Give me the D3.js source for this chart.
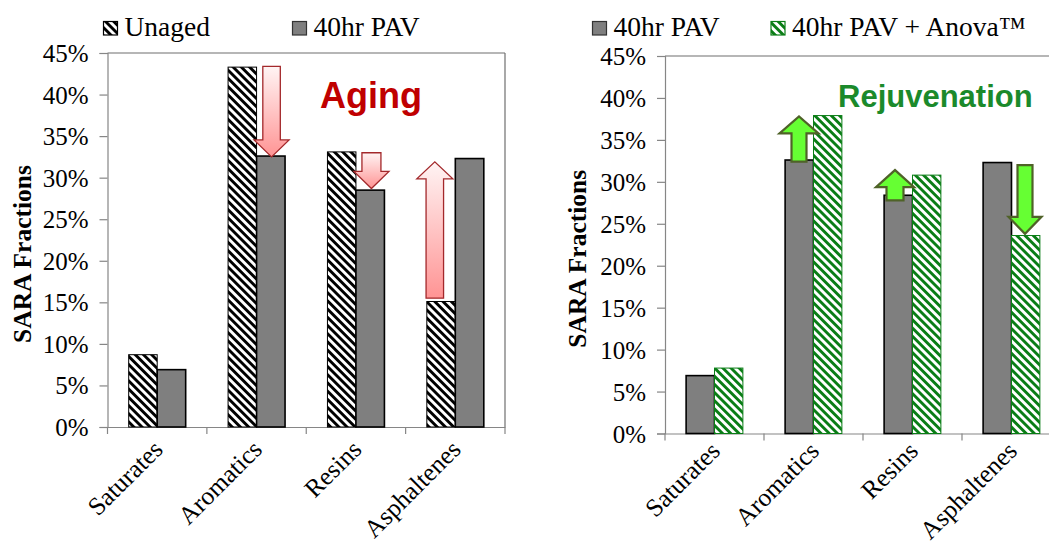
<!DOCTYPE html>
<html>
<head>
<meta charset="utf-8">
<script src="https://cdn.jsdelivr.net/npm/d3@7"></script>
<style>
  html, body { margin: 0; padding: 0; background: #fff; }
  svg { display: block; }
</style>
</head>
<body>
<svg id="chart" width="1049" height="544"></svg>
<script>
// ---------- DATA ----------
const categories = ["Saturates", "Aromatics", "Resins", "Asphaltenes"];
const yTicks = [0, 5, 10, 15, 20, 25, 30, 35, 40, 45];

// Left chart: Aging
const leftSeries = ["Unaged", "40hr PAV"];
const unaged = [8.7, 43.3, 33.1, 15.1];
const pavLeft = [6.9, 32.6, 28.5, 32.3];

// Right chart: Rejuvenation
const rightSeries = ["40hr PAV", "40hr PAV + Anova™"];
const pavRight = [6.9, 32.6, 28.4, 32.3];
const anova = [7.8, 37.9, 30.8, 23.6];

// Arrow annotations: [category, from value, to value]
const agingArrows = [["Aromatics", 43.4, 32.5], ["Resins", 33.0, 28.7], ["Asphaltenes", 15.5, 31.9]];
const rejuvArrows = [["Aromatics", 32.4, 37.8], ["Resins", 27.8, 31.4], ["Asphaltenes", 32.0, 23.8]];

// ---------- RENDER ----------
const svg = d3.select("#chart");
const serif = "'Liberation Serif', 'Times New Roman', serif";
const sans = "'Liberation Sans', Arial, sans-serif";
const axisColor = "#868686";

const defs = svg.append("defs");
function hatch(id, color) {
  const p = defs.append("pattern").attr("id", id).attr("patternUnits", "userSpaceOnUse")
    .attr("width", 5.8).attr("height", 5.8).attr("patternTransform", "rotate(-45)");
  p.append("rect").attr("width", 5.8).attr("height", 5.8).attr("fill", "#fff");
  p.append("rect").attr("x", 0).attr("width", 2.9).attr("height", 5.8).attr("fill", color);
}
hatch("hatchBlack", "#000");
hatch("hatchGreen", "#0a7d16");
const pink = defs.append("linearGradient").attr("id", "pinkGrad").attr("x1", 0).attr("y1", 0).attr("x2", 0).attr("y2", 1);
pink.append("stop").attr("offset", "0%").attr("stop-color", "#fff4f4");
pink.append("stop").attr("offset", "100%").attr("stop-color", "#ff9494");

function arrowPath(cx, y0, y1, shaftW, headW, headL) {
  const dir = y1 > y0 ? 1 : -1;
  const hb = y1 - dir * headL;
  const s = shaftW / 2, h = headW / 2;
  return `M${cx - s},${y0} L${cx - s},${hb} L${cx - h},${hb} L${cx},${y1} L${cx + h},${hb} L${cx + s},${hb} L${cx + s},${y0} Z`;
}

function drawChart(opts) {
  const g = svg.append("g");
  const x = d3.scaleBand().domain(categories).range([opts.x0, opts.x1]).paddingInner(0).paddingOuter(0);
  const xs = d3.scaleBand().domain(opts.series).range([0, x.bandwidth()]).paddingInner(0).paddingOuter(0.744);
  const y = d3.scaleLinear().domain([0, 45]).range([opts.yb, opts.yt]);

  // plot border (top & right)
  g.append("line").attr("x1", opts.x0).attr("x2", opts.x1).attr("y1", opts.yt).attr("y2", opts.yt)
    .attr("stroke", "#6f6f6f").attr("stroke-width", 1.2);
  g.append("line").attr("x1", opts.x1).attr("x2", opts.x1).attr("y1", opts.yt).attr("y2", opts.yb)
    .attr("stroke", "#6f6f6f").attr("stroke-width", 1.2);

  // y axis
  const yAxis = d3.axisLeft(y).tickValues(yTicks).tickFormat(d => d + "%").tickSize(8).tickPadding(11);
  const ya = g.append("g").attr("transform", `translate(${opts.x0},0)`).call(yAxis);
  ya.select(".domain").attr("stroke", axisColor).attr("stroke-width", 1.2);
  ya.selectAll(".tick line").attr("stroke", axisColor).attr("stroke-width", 1.2);
  ya.selectAll(".tick text").attr("font-family", serif).attr("font-size", 25).attr("fill", "#000").attr("dy", "0.34em");

  // x axis
  const xAxis = d3.axisBottom(x).tickSize(0).tickSizeOuter(0);
  const xa = g.append("g").attr("transform", `translate(0,${opts.yb})`).call(xAxis);
  xa.select(".domain").attr("stroke", axisColor).attr("stroke-width", 1.2);
  const bounds = categories.map(c => x(c)).concat([opts.x1]);
  xa.selectAll(".btick").data(bounds).enter().append("line").attr("class", "btick")
    .attr("x1", d => d).attr("x2", d => d).attr("y1", 0).attr("y2", 7)
    .attr("stroke", axisColor).attr("stroke-width", 1.2);
  xa.selectAll(".tick text")
    .attr("font-family", serif).attr("font-size", 25.5).attr("fill", "#000")
    .attr("text-anchor", "end").attr("dy", 0).attr("y", 0)
    .attr("transform", `translate(7,${opts.labelDy}) rotate(-45)`);

  // bars
  opts.series.forEach((s, si) => {
    const vals = opts.values[si];
    g.selectAll(null).data(categories).enter().append("rect")
      .attr("x", c => x(c) + xs(s))
      .attr("width", xs.bandwidth())
      .attr("y", (c, i) => y(vals[i]))
      .attr("height", (c, i) => opts.yb - y(vals[i]))
      .attr("fill", opts.fills[si])
      .attr("stroke", opts.strokes[si])
      .attr("stroke-width", opts.strokeW[si]);
  });

  // legend
  opts.legend.forEach((L, i) => {
    g.append("rect").attr("x", L.x).attr("y", 21.5).attr("width", 14).attr("height", 13.5)
      .attr("fill", opts.fills[i]).attr("stroke", opts.legendStroke[i]).attr("stroke-width", 1.2);
    g.append("text").attr("x", L.x + 21).attr("y", 36).attr("font-family", serif).attr("font-size", 27.5)
      .attr("fill", "#000").text(opts.series[i]);
  });

  // arrows
  opts.arrows.forEach((a, i) => {
    const st = opts.arrowStyle[i];
    const cx = x(a[0]) + x.bandwidth() / 2 + st.dx;
    g.append("path").attr("d", arrowPath(cx, y(a[1]), y(a[2]), st.sw, st.hw, 17))
      .attr("fill", opts.arrowFill).attr("stroke", opts.arrowStroke).attr("stroke-width", opts.arrowStrokeW)
      .attr("stroke-linejoin", "miter");
  });

  // title annotation
  g.append("text").attr("x", opts.title.x).attr("y", opts.title.y).attr("font-family", sans)
    .attr("font-weight", "bold").attr("font-size", opts.title.size).attr("fill", opts.title.color)
    .text(opts.title.text);

  // y axis title
  g.append("text").attr("transform", `translate(${opts.ytx},${(opts.yt + opts.yb) / 2 + 14}) rotate(-90)`)
    .attr("text-anchor", "middle").attr("font-family", serif).attr("font-weight", "bold")
    .attr("font-size", 25.5).attr("fill", "#000").text("SARA Fractions");
}

drawChart({
  x0: 107.5, x1: 505, yt: 53, yb: 427, labelDy: 24,
  series: leftSeries, values: [unaged, pavLeft],
  fills: ["url(#hatchBlack)", "#7f7f7f"], strokes: ["#000", "#000"], strokeW: [1, 1.6],
  legendStroke: ["#000", "#333"],
  legend: [{ x: 103.5 }, { x: 292.5 }],
  arrows: agingArrows,
  arrowStyle: [{ dx: 15, sw: 17.5, hw: 35 }, { dx: 15.5, sw: 19, hw: 35 }, { dx: -20.5, sw: 17.5, hw: 36 }],
  arrowFill: "url(#pinkGrad)", arrowStroke: "#a3282b", arrowStrokeW: 1.3,
  title: { text: "Aging", x: 320, y: 108, size: 36, color: "#c00000" },
  ytx: 31
});

drawChart({
  x0: 665, x1: 1061, yt: 56, yb: 433.5, labelDy: 19,
  series: rightSeries, values: [pavRight, anova],
  fills: ["#7f7f7f", "url(#hatchGreen)"], strokes: ["#000", "#0a7d16"], strokeW: [1.6, 1],
  legendStroke: ["#333", "#0a7d16"],
  legend: [{ x: 592.5 }, { x: 771 }],
  arrows: rejuvArrows,
  arrowStyle: [{ dx: -14.5, sw: 15, hw: 39 }, { dx: -17.5, sw: 17, hw: 38 }, { dx: 13.5, sw: 15, hw: 33 }],
  arrowFill: "#66ff33", arrowStroke: "#4f6228", arrowStrokeW: 2.2,
  title: { text: "Rejuvenation", x: 838, y: 107, size: 31, color: "#1b8a2b" },
  ytx: 586
});
</script>
</body>
</html>
